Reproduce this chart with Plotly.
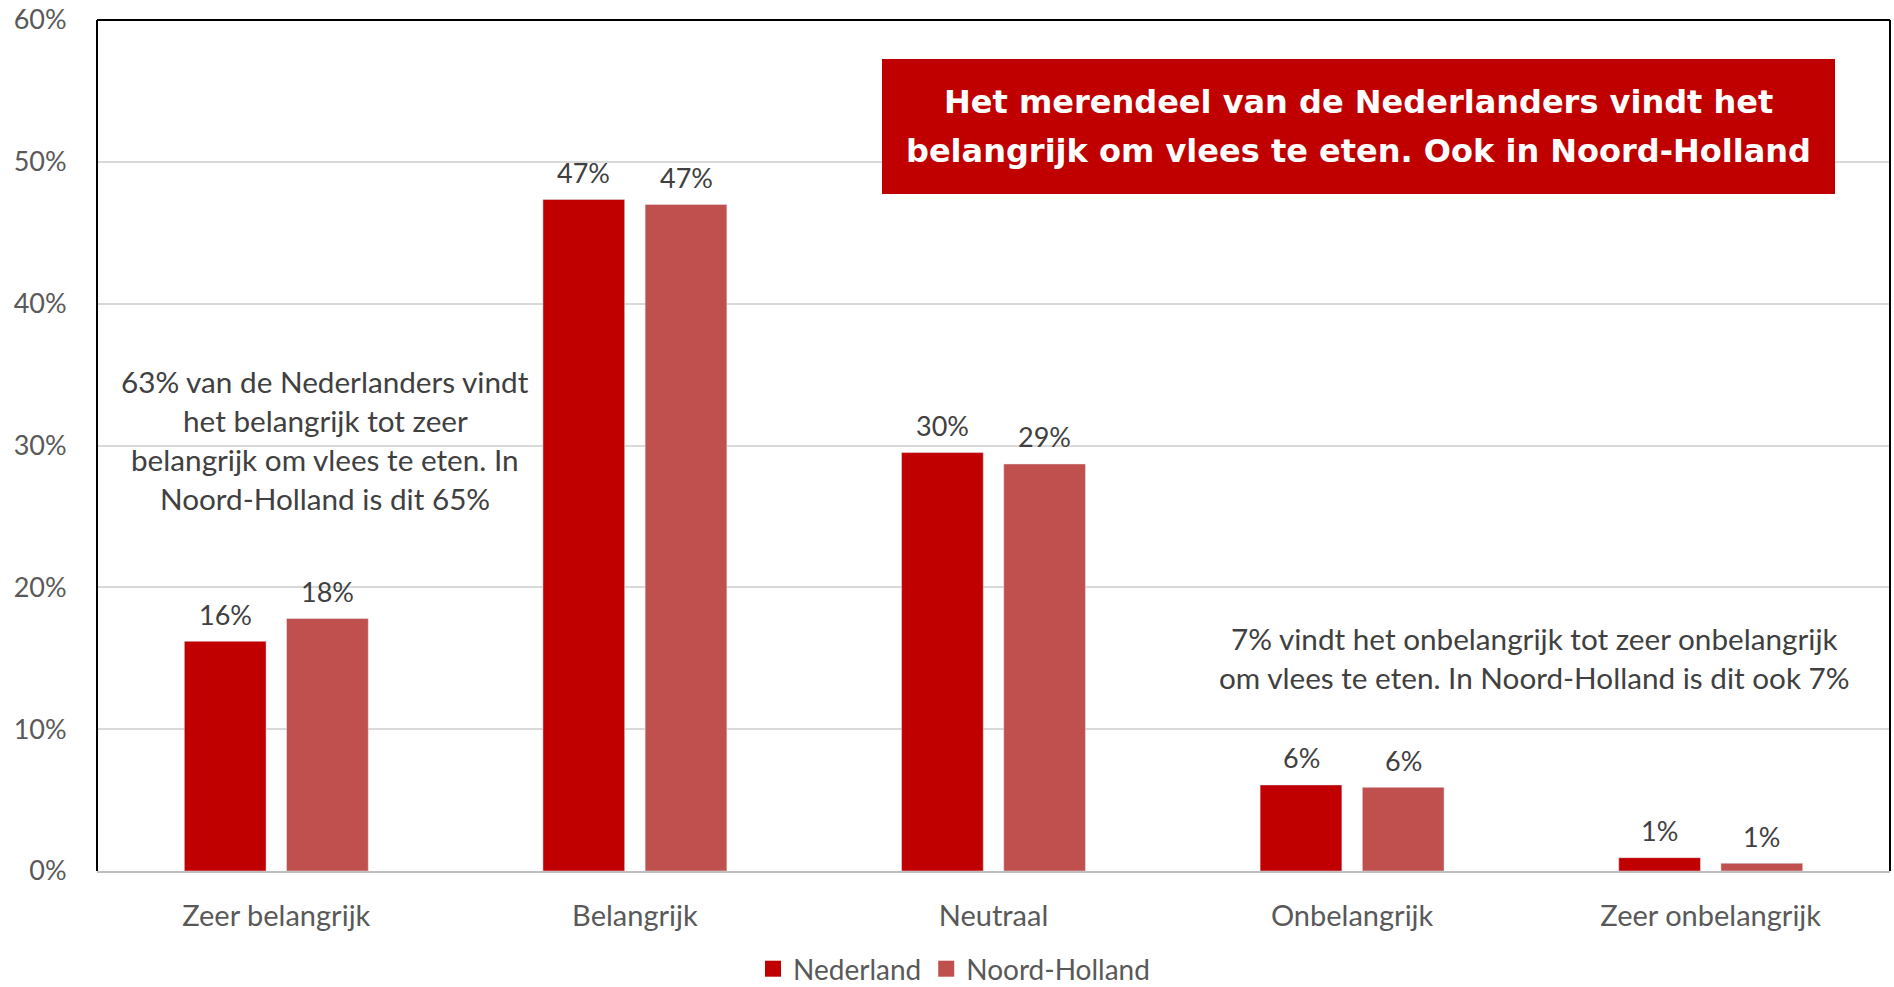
import plotly.graph_objects as go

categories = ["Zeer belangrijk", "Belangrijk", "Neutraal", "Onbelangrijk", "Zeer onbelangrijk"]
nederland = [16.2, 47.35, 29.5, 6.07, 0.94]
noord_holland = [17.8, 47.0, 28.7, 5.9, 0.55]
series_names = ["Nederland", "Noord-Holland"]
y_tickvals = [0, 10, 20, 30, 40, 50, 60]
y_ticklabels = ["0%", "10%", "20%", "30%", "40%", "50%", "60%"]

title_lines = ["Het merendeel van de Nederlanders vindt het",
               "belangrijk om vlees te eten. Ook in Noord-Holland"]
left_note = ["63% van de Nederlanders vindt", "het belangrijk tot zeer",
             "belangrijk om vlees te eten. In", "Noord-Holland is dit 65%"]
right_note = ["7% vindt het onbelangrijk tot zeer onbelangrijk",
              "om vlees te eten. In Noord-Holland is dit ook 7%"]

C_NL = "#C00000"
C_NH = "#C0504D"
FONT = "Lato"
TXT = "#404040"
GREY = "#595959"

W, H = 1894, 987
L, R, T, B = 97, 4, 20, 116
PW, PH = W - L - R, H - T - B


def px(xp):
    return (xp - L) / PW


def py(yp):
    return (H - B - yp) / PH


x_idx = list(range(len(categories)))
fig = go.Figure()
fig.add_bar(x=x_idx, y=nederland, name=series_names[0], marker_color=C_NL,
            showlegend=False, legendgroup="nl")
fig.add_bar(x=x_idx, y=noord_holland, name=series_names[1], marker_color=C_NH,
            showlegend=False, legendgroup="nh")
# legend entries with square swatches
fig.add_scatter(x=[None], y=[None], mode="markers", name=series_names[0], legendgroup="nl",
                marker=dict(symbol="square", size=16, color=C_NL))
fig.add_scatter(x=[None], y=[None], mode="markers", name=series_names[1], legendgroup="nh",
                marker=dict(symbol="square", size=16, color=C_NH))

bargap = 0.43
groupgap = 0.2
slot = (1 - bargap) / 2
annotations = []
for vals, off in ((nederland, -slot / 2), (noord_holland, slot / 2)):
    for i, v in enumerate(vals):
        annotations.append(dict(x=i + off, y=v, xref="x", yref="y",
                                text=f"{int(v + 0.5)}%", showarrow=False,
                                yanchor="middle", yshift=27,
                                font=dict(family=FONT, size=27, color=TXT)))

for ln, yp in zip(title_lines, (102, 151)):
    annotations.append(dict(x=px(1358), y=py(yp), xref="paper", yref="paper",
                            text=f"<b>{ln}</b>", showarrow=False,
                            xanchor="center", yanchor="middle",
                            font=dict(family="DejaVu Sans", size=32, color="white")))
for ln, yp in zip(left_note, (382, 420, 459, 498)):
    annotations.append(dict(x=px(325), y=py(yp), xref="paper", yref="paper",
                            text=ln, showarrow=False, xanchor="center", yanchor="middle",
                            font=dict(family=FONT, size=29.7, color=TXT)))
for ln, yp in zip(right_note, (638, 677)):
    annotations.append(dict(x=px(1534), y=py(yp), xref="paper", yref="paper",
                            text=ln, showarrow=False, xanchor="center", yanchor="middle",
                            font=dict(family=FONT, size=29.7, color=TXT)))

shapes = [
    dict(type="rect", xref="paper", yref="paper", x0=px(882), x1=px(1835),
         y0=py(194), y1=py(59), fillcolor=C_NL, line=dict(width=0), layer="above"),
    dict(type="line", xref="paper", yref="paper", x0=0, x1=0, y0=0, y1=1,
         line=dict(color="black", width=2)),
    dict(type="line", xref="paper", yref="paper", x0=0, x1=1, y0=1, y1=1,
         line=dict(color="black", width=2)),
    dict(type="line", xref="paper", yref="paper", x0=1, x1=1, y0=0, y1=1,
         line=dict(color="black", width=2)),
]

fig.update_layout(
    width=W, height=H,
    margin=dict(l=L, r=R, t=T, b=B, autoexpand=False),
    paper_bgcolor="white", plot_bgcolor="white",
    barmode="group", bargap=bargap, bargroupgap=groupgap,
    font=dict(family=FONT, size=27, color=GREY),
    xaxis=dict(range=[-0.5, len(categories) - 0.5], tickvals=x_idx, ticktext=categories,
               showgrid=False, zeroline=False, showline=True, linecolor="#BFBFBF",
               linewidth=2, ticks="outside", ticklen=18, tickcolor="rgba(0,0,0,0)",
               tickfont=dict(family=FONT, size=29, color=GREY)),
    yaxis=dict(range=[0, 60], tickvals=y_tickvals, ticktext=y_ticklabels,
               showgrid=True, gridcolor="#D9D9D9", gridwidth=1.5, zeroline=False,
               showline=False, ticks="outside", ticklen=24, tickcolor="rgba(0,0,0,0)",
               tickfont=dict(family=FONT, size=27, color=GREY)),
    legend=dict(orientation="h", x=px(954), xanchor="center", y=py(969), yanchor="middle",
                font=dict(family=FONT, size=28, color=GREY), itemwidth=30,
                bgcolor="rgba(0,0,0,0)"),
    annotations=annotations,
    shapes=shapes,
)

fig.write_html("out.html", config={"displayModeBar": False},
               post_script="document.body.style.margin='0';document.body.style.overflow='hidden';")
